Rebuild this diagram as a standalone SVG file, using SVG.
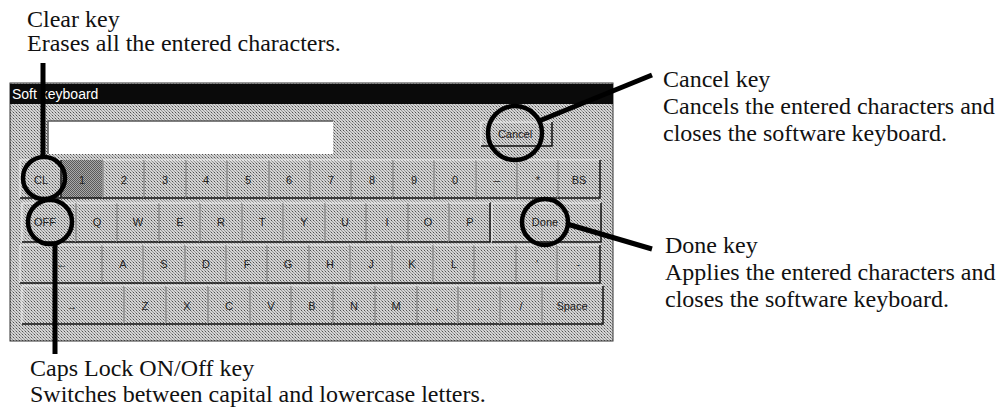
<svg xmlns="http://www.w3.org/2000/svg" width="1004" height="407" viewBox="0 0 1004 407">
<defs>
<pattern id="dither" width="3" height="3" patternUnits="userSpaceOnUse">
<rect width="3" height="3" fill="#d4d4d4"/>
<rect x="1" y="1" width="1" height="1" fill="#505050"/>
<rect x="0" y="0" width="1" height="1" fill="#959595"/>
<rect x="2" y="2" width="1" height="1" fill="#959595"/>
</pattern>
<pattern id="ditherDark" width="2" height="2" patternUnits="userSpaceOnUse">
<rect width="2" height="2" fill="#a8a8a8"/>
<rect x="0" y="0" width="1" height="1" fill="#5a5a5a"/>
<rect x="1" y="1" width="1" height="1" fill="#5a5a5a"/>
</pattern>
<style>
.note{font-family:"Liberation Serif","Times New Roman",serif;font-size:24px;fill:#111}
.lbl{font-family:"Liberation Sans",Arial,sans-serif;font-size:11px;fill:#222;text-anchor:middle}
.sh{stroke:#111;stroke-width:1.5;fill:none}
.hl{stroke:#f6f6f6;stroke-width:1;fill:none}
.ring{fill:none;stroke:#000;stroke-width:4.5}
.lead{stroke:#000;stroke-width:5;fill:none}
</style>
</defs>

<g id="keyboard-window">
<rect x="10" y="83" width="603" height="258" fill="url(#dither)" stroke="#333" stroke-width="1"/>
<rect x="10" y="84" width="603" height="20" fill="#0a0a0a"/>
<text x="12" y="99" font-family="Liberation Sans, Arial, sans-serif" font-size="14" fill="#fff">Soft keyboard</text>
<rect x="48" y="121" width="285" height="33" fill="#fff"/>
<path d="M48 154 V121 H333" stroke="#555" stroke-width="1.5" fill="none"/>
</g>

<g id="cancel-button">
<path class="hl" d="M481 146 V122 H552"/>
<path class="sh" d="M481 146 H552 V122"/>
<text class="lbl" x="515" y="138">Cancel</text>
</g>

<g id="keys-row1">
<rect x="61.5" y="160" width="41.5" height="38" fill="url(#ditherDark)"/>
<g id="k-cl"><path class="hl" d="M20 198 V160 H61"/><path class="sh" d="M20 198 H61 V160"/><text class="lbl" x="41" y="184">CL</text></g>
<g id="k-1"><path class="sh" d="M62 198 H103 V160"/><text class="lbl" x="82" y="184">1</text></g>
<g id="k-2"><path class="hl" d="M103 198 V160 H144"/><path class="sh" d="M103 198 H144 V160"/><text class="lbl" x="124" y="184">2</text></g>
<g id="k-3"><path class="hl" d="M144 198 V160 H186"/><path class="sh" d="M144 198 H186 V160"/><text class="lbl" x="165" y="184">3</text></g>
<g id="k-4"><path class="hl" d="M186 198 V160 H227"/><path class="sh" d="M186 198 H227 V160"/><text class="lbl" x="206" y="184">4</text></g>
<g id="k-5"><path class="hl" d="M227 198 V160 H269"/><path class="sh" d="M227 198 H269 V160"/><text class="lbl" x="248" y="184">5</text></g>
<g id="k-6"><path class="hl" d="M269 198 V160 H310"/><path class="sh" d="M269 198 H310 V160"/><text class="lbl" x="289" y="184">6</text></g>
<g id="k-7"><path class="hl" d="M310 198 V160 H351"/><path class="sh" d="M310 198 H351 V160"/><text class="lbl" x="331" y="184">7</text></g>
<g id="k-8"><path class="hl" d="M351 198 V160 H393"/><path class="sh" d="M351 198 H393 V160"/><text class="lbl" x="372" y="184">8</text></g>
<g id="k-9"><path class="hl" d="M393 198 V160 H434"/><path class="sh" d="M393 198 H434 V160"/><text class="lbl" x="414" y="184">9</text></g>
<g id="k-0"><path class="hl" d="M434 198 V160 H476"/><path class="sh" d="M434 198 H476 V160"/><text class="lbl" x="455" y="184">0</text></g>
<g id="k-minus"><path class="hl" d="M476 198 V160 H517"/><path class="sh" d="M476 198 H517 V160"/><text class="lbl" x="497" y="184">–</text></g>
<g id="k-star"><path class="hl" d="M517 198 V160 H558"/><path class="sh" d="M517 198 H558 V160"/><text class="lbl" x="538" y="184">*</text></g>
<g id="k-bs"><path class="hl" d="M558 198 V160 H600"/><path class="sh" d="M558 198 H600 V160"/><text class="lbl" x="579" y="184">BS</text></g>
</g>

<g id="keys-row2">
<g id="k-off"><path class="hl" d="M22 242 V203 H76"/><path class="sh" d="M22 242 H76 V203"/><text class="lbl" x="45" y="226">OFF</text></g>
<g id="k-q"><path class="hl" d="M76 242 V203 H117"/><path class="sh" d="M76 242 H117 V203"/><text class="lbl" x="97" y="226">Q</text></g>
<g id="k-w"><path class="hl" d="M117 242 V203 H159"/><path class="sh" d="M117 242 H159 V203"/><text class="lbl" x="138" y="226">W</text></g>
<g id="k-e"><path class="hl" d="M159 242 V203 H200"/><path class="sh" d="M159 242 H200 V203"/><text class="lbl" x="180" y="226">E</text></g>
<g id="k-r"><path class="hl" d="M200 242 V203 H242"/><path class="sh" d="M200 242 H242 V203"/><text class="lbl" x="221" y="226">R</text></g>
<g id="k-t"><path class="hl" d="M242 242 V203 H283"/><path class="sh" d="M242 242 H283 V203"/><text class="lbl" x="262" y="226">T</text></g>
<g id="k-y"><path class="hl" d="M283 242 V203 H325"/><path class="sh" d="M283 242 H325 V203"/><text class="lbl" x="304" y="226">Y</text></g>
<g id="k-u"><path class="hl" d="M325 242 V203 H366"/><path class="sh" d="M325 242 H366 V203"/><text class="lbl" x="345" y="226">U</text></g>
<g id="k-i"><path class="hl" d="M366 242 V203 H408"/><path class="sh" d="M366 242 H408 V203"/><text class="lbl" x="387" y="226">I</text></g>
<g id="k-o"><path class="hl" d="M408 242 V203 H449"/><path class="sh" d="M408 242 H449 V203"/><text class="lbl" x="428" y="226">O</text></g>
<g id="k-p"><path class="hl" d="M449 242 V203 H490"/><path class="sh" d="M449 242 H490 V203"/><text class="lbl" x="470" y="226">P</text></g>
<g id="k-done"><path class="hl" d="M492 242 V203 H601"/><path class="sh" d="M492 242 H601 V203"/><text class="lbl" x="545" y="226">Done</text></g>
</g>

<g id="keys-row3">
<g id="k-left"><path class="hl" d="M20 283 V245 H102"/><path class="sh" d="M20 283 H102 V245"/><text class="lbl" x="62" y="268">←</text></g>
<g id="k-a"><path class="hl" d="M102 283 V245 H143"/><path class="sh" d="M102 283 H143 V245"/><text class="lbl" x="123" y="268">A</text></g>
<g id="k-s"><path class="hl" d="M143 283 V245 H185"/><path class="sh" d="M143 283 H185 V245"/><text class="lbl" x="164" y="268">S</text></g>
<g id="k-d"><path class="hl" d="M185 283 V245 H226"/><path class="sh" d="M185 283 H226 V245"/><text class="lbl" x="206" y="268">D</text></g>
<g id="k-f"><path class="hl" d="M226 283 V245 H267"/><path class="sh" d="M226 283 H267 V245"/><text class="lbl" x="247" y="268">F</text></g>
<g id="k-g"><path class="hl" d="M267 283 V245 H309"/><path class="sh" d="M267 283 H309 V245"/><text class="lbl" x="288" y="268">G</text></g>
<g id="k-h"><path class="hl" d="M309 283 V245 H350"/><path class="sh" d="M309 283 H350 V245"/><text class="lbl" x="330" y="268">H</text></g>
<g id="k-j"><path class="hl" d="M350 283 V245 H392"/><path class="sh" d="M350 283 H392 V245"/><text class="lbl" x="371" y="268">J</text></g>
<g id="k-k"><path class="hl" d="M392 283 V245 H433"/><path class="sh" d="M392 283 H433 V245"/><text class="lbl" x="412" y="268">K</text></g>
<g id="k-l"><path class="hl" d="M433 283 V245 H474"/><path class="sh" d="M433 283 H474 V245"/><text class="lbl" x="454" y="268">L</text></g>
<g id="k-blank"><path class="hl" d="M474 283 V245 H516"/><path class="sh" d="M474 283 H516 V245"/></g>
<g id="k-semi"><path class="hl" d="M516 283 V245 H557"/><path class="sh" d="M516 283 H557 V245"/><text class="lbl" x="537" y="268">'</text></g>
<g id="k-under"><path class="hl" d="M557 283 V245 H600"/><path class="sh" d="M557 283 H600 V245"/><text class="lbl" x="578" y="268">-</text></g>
</g>

<g id="keys-row4">
<g id="k-right"><path class="hl" d="M22 324 V286 H124"/><path class="sh" d="M22 324 H124 V286"/><text class="lbl" x="72" y="310">→</text></g>
<g id="k-z"><path class="hl" d="M124 324 V286 H166"/><path class="sh" d="M124 324 H166 V286"/><text class="lbl" x="145" y="310">Z</text></g>
<g id="k-x"><path class="hl" d="M166 324 V286 H208"/><path class="sh" d="M166 324 H208 V286"/><text class="lbl" x="187" y="310">X</text></g>
<g id="k-c"><path class="hl" d="M208 324 V286 H250"/><path class="sh" d="M208 324 H250 V286"/><text class="lbl" x="229" y="310">C</text></g>
<g id="k-v"><path class="hl" d="M250 324 V286 H291"/><path class="sh" d="M250 324 H291 V286"/><text class="lbl" x="271" y="310">V</text></g>
<g id="k-b"><path class="hl" d="M291 324 V286 H333"/><path class="sh" d="M291 324 H333 V286"/><text class="lbl" x="312" y="310">B</text></g>
<g id="k-n"><path class="hl" d="M333 324 V286 H375"/><path class="sh" d="M333 324 H375 V286"/><text class="lbl" x="354" y="310">N</text></g>
<g id="k-m"><path class="hl" d="M375 324 V286 H417"/><path class="sh" d="M375 324 H417 V286"/><text class="lbl" x="396" y="310">M</text></g>
<g id="k-comma"><path class="hl" d="M417 324 V286 H458"/><path class="sh" d="M417 324 H458 V286"/><text class="lbl" x="437" y="310">,</text></g>
<g id="k-period"><path class="hl" d="M458 324 V286 H500"/><path class="sh" d="M458 324 H500 V286"/><text class="lbl" x="479" y="310">.</text></g>
<g id="k-slash"><path class="hl" d="M500 324 V286 H542"/><path class="sh" d="M500 324 H542 V286"/><text class="lbl" x="521" y="310">/</text></g>
<g id="k-space"><path class="hl" d="M542 324 V286 H603"/><path class="sh" d="M542 324 H603 V286"/><text class="lbl" x="572" y="310">Space</text></g>
</g>

<g id="connectors">
<line class="lead" x1="43" y1="63" x2="43" y2="157"/>
<line class="lead" x1="55" y1="244" x2="55" y2="354"/>
<line class="lead" x1="539" y1="121" x2="652" y2="75"/>
<line class="lead" x1="567" y1="224" x2="652" y2="249"/>
</g>

<g id="callout-rings">
<circle class="ring" cx="44" cy="178" r="21"/>
<circle class="ring" cx="50" cy="222" r="22"/>
<circle class="ring" cx="515" cy="133" r="27"/>
<circle class="ring" cx="545" cy="222" r="23"/>
</g>

<g id="note-clear">
<text class="note" x="27" y="27">Clear key</text>
<text class="note" x="27" y="51">Erases all the entered characters.</text>
</g>
<g id="note-cancel">
<text class="note" x="663" y="87">Cancel key</text>
<text class="note" x="663" y="114">Cancels the entered characters and</text>
<text class="note" x="663" y="141">closes the software keyboard.</text>
</g>
<g id="note-done">
<text class="note" x="665" y="253">Done key</text>
<text class="note" x="665" y="280">Applies the entered characters and</text>
<text class="note" x="665" y="307">closes the software keyboard.</text>
</g>
<g id="note-caps">
<text class="note" x="30" y="376">Caps Lock ON/Off key</text>
<text class="note" x="30" y="402">Switches between capital and lowercase letters.</text>
</g>
</svg>
